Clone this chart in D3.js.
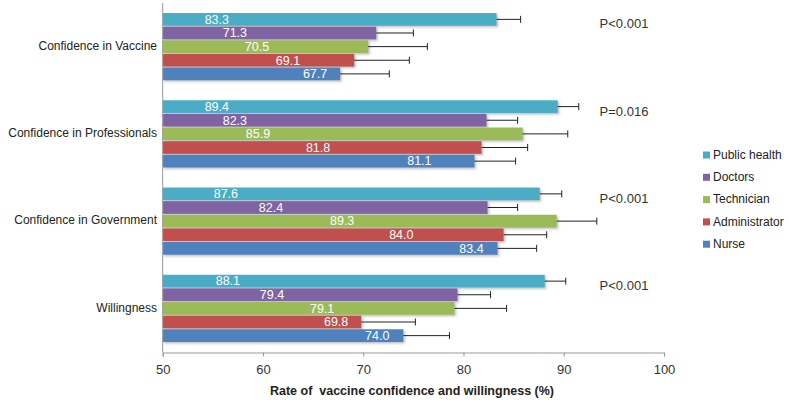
<!DOCTYPE html>
<html><head><meta charset="utf-8">
<script src="https://cdn.jsdelivr.net/npm/d3@7"></script>
<style>body{margin:0;background:#fff}svg{display:block}text{font-family:"Liberation Sans",Arial,sans-serif;white-space:pre}</style>
</head><body><svg id="c" width="789" height="403"></svg>
<script>
const categories = ["Confidence in Vaccine","Confidence in Professionals","Confidence in Government","Willingness"];
const series = ["Public health","Doctors","Technician","Administrator","Nurse"];
const colors = ["#4BACC6","#8064A2","#9BBB59","#C0504D","#4F81BD"];
const publicHealth = [83.3, 89.4, 87.6, 88.1];
const doctors      = [71.3, 82.3, 82.4, 79.4];
const technician   = [70.5, 85.9, 89.3, 79.1];
const administrator= [69.1, 81.8, 84.0, 69.8];
const nurse        = [67.7, 81.1, 83.4, 74.0];
const errPublicHealth = [2.4, 2.1, 2.2, 2.1];
const errDoctors      = [3.7, 3.1, 3.0, 3.3];
const errTechnician   = [5.9, 4.5, 4.0, 5.2];
const errAdministrator= [5.5, 4.6, 4.3, 5.4];
const errNurse        = [4.9, 4.1, 3.9, 4.6];
const pValues = ["P<0.001","P=0.016","P<0.001","P<0.001"];
const xTicks = [50,60,70,80,90,100];
const xTitle = "Rate of  vaccine confidence and willingness (%)";
// label anchor positions (in axis units), per series, per category
const labelAtPH  = [55.4, 55.4, 56.3, 56.5];
const labelAtDoc = [57.2, 57.2, 60.8, 60.9];
const labelAtTec = [59.4, 59.5, 67.9, 65.9];
const labelAtAdm = [62.5, 65.5, 73.8, 67.3];
const labelAtNur = [65.2, 75.6, 80.8, 71.4];

const values = [publicHealth, doctors, technician, administrator, nurse];
const errs = [errPublicHealth, errDoctors, errTechnician, errAdministrator, errNurse];
const labelAt = [labelAtPH, labelAtDoc, labelAtTec, labelAtAdm, labelAtNur];

const svg = d3.select("#c");
const defs = svg.append("defs");
const f = defs.append("filter").attr("id","sh").attr("x","-5%").attr("y","-20%").attr("width","115%").attr("height","160%");
f.append("feDropShadow").attr("dx",1.5).attr("dy",1.5).attr("stdDeviation",1).attr("flood-color","#888").attr("flood-opacity",0.55);

const x = d3.scaleLinear().domain([50,100]).range([162.7,664]);
const y0 = d3.scaleBand().domain(categories).range([3,352]).paddingInner(0.23).paddingOuter(0.115);
const y1 = d3.scaleBand().domain(series).range([0,y0.bandwidth()]).paddingInner(0.07);

const rows = [];
categories.forEach((c,ci)=>series.forEach((s,si)=>rows.push({c,ci,s,si,v:values[si][ci],e:errs[si][ci],l:labelAt[si][ci]})));

const g = svg.append("g");
g.selectAll("rect.bar").data(rows).join("rect").attr("class","bar")
 .attr("x",x(50)).attr("y",d=>y0(d.c)+y1(d.s)).attr("width",d=>x(d.v)-x(50)).attr("height",y1.bandwidth())
 .attr("fill",d=>colors[d.si]).attr("filter","url(#sh)");

// error bars
const eb = g.selectAll("g.err").data(rows).join("g").attr("class","err");
eb.append("line").attr("x1",d=>x(d.v)).attr("x2",d=>x(d.v+d.e))
 .attr("y1",d=>y0(d.c)+y1(d.s)+y1.bandwidth()/2).attr("y2",d=>y0(d.c)+y1(d.s)+y1.bandwidth()/2)
 .attr("stroke","#222").attr("stroke-width",1);
eb.append("line").attr("x1",d=>x(d.v+d.e)).attr("x2",d=>x(d.v+d.e))
 .attr("y1",d=>y0(d.c)+y1(d.s)+y1.bandwidth()/2-3.5).attr("y2",d=>y0(d.c)+y1(d.s)+y1.bandwidth()/2+3.5)
 .attr("stroke","#222").attr("stroke-width",1);

// value labels
g.selectAll("text.val").data(rows).join("text").attr("class","val")
 .attr("x",d=>x(d.l)).attr("y",d=>y0(d.c)+y1(d.s)+y1.bandwidth()/2+1)
 .attr("text-anchor","middle").attr("dominant-baseline","middle")
 .attr("fill","#fff").attr("font-size",12.5).text(d=>d.v.toFixed(1));

// x axis
const xa = svg.append("g").attr("transform","translate(0,352.5)")
 .call(d3.axisBottom(x).tickValues(xTicks).tickSize(4).tickPadding(8).tickFormat(d3.format("d")));
xa.select(".domain").attr("stroke","#999");
xa.selectAll(".tick line").attr("stroke","#999");
xa.selectAll(".tick text").attr("font-size",13).attr("fill","#333").attr("font-family","Liberation Sans, Arial, sans-serif");

// y axis line + labels
svg.append("line").attr("x1",162.7).attr("x2",162.7).attr("y1",3).attr("y2",352.5).attr("stroke","#999");
svg.selectAll("text.cat").data(categories).join("text").attr("class","cat")
 .attr("x",157).attr("y",d=>y0(d)+y0.bandwidth()/2).attr("text-anchor","end").attr("dominant-baseline","middle")
 .attr("font-size",12).attr("fill","#222").text(d=>d);

// p values
svg.selectAll("text.p").data(categories).join("text").attr("class","p")
 .attr("x",624).attr("y",(d,i)=>y0(d)+12).attr("text-anchor","middle").attr("dominant-baseline","middle")
 .attr("font-size",13).attr("fill","#333").text((d,i)=>pValues[i]);

// legend
const lg = svg.selectAll("g.lg").data(series).join("g").attr("class","lg")
 .attr("transform",(d,i)=>`translate(703,${155+i*22.3})`);
lg.append("rect").attr("x",0).attr("y",-3.5).attr("width",7).attr("height",7).attr("fill",(d,i)=>colors[i]);
lg.append("text").attr("x",10).attr("y",0.5).attr("dominant-baseline","middle").attr("font-size",12).attr("fill","#222").text(d=>d);

// x title
svg.append("text").attr("x",412).attr("y",392).attr("text-anchor","middle").attr("dominant-baseline","middle")
 .attr("font-size",12.5).attr("font-weight","bold").attr("fill","#222").text(xTitle);
</script></body></html>
